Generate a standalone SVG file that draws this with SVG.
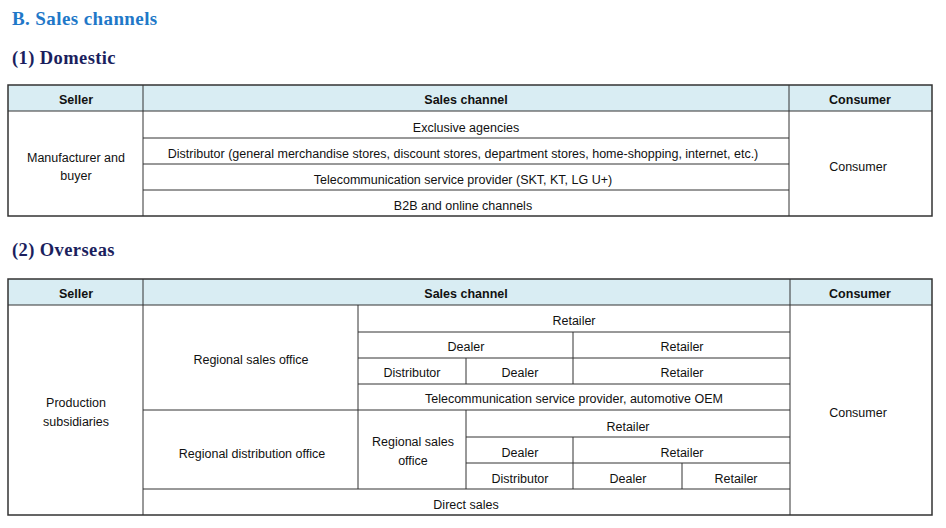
<svg xmlns="http://www.w3.org/2000/svg" width="946" height="528" viewBox="0 0 946 528">
<style>
.h1{font-family:"Liberation Serif",serif;font-weight:bold;font-size:19px;letter-spacing:0.4px;fill:#1f78c8}
.h2{font-family:"Liberation Serif",serif;font-weight:bold;font-size:18.5px;letter-spacing:0.4px;fill:#1b1f5e}
.th{font-family:"Liberation Sans",Arial,sans-serif;font-weight:bold;font-size:12.5px;fill:#111;text-anchor:middle}
.t{font-family:"Liberation Sans",Arial,sans-serif;font-size:12.5px;fill:#111;text-anchor:middle}
.hd{fill:#d9edf3}
.ln{stroke:#333;stroke-width:1;fill:none}
.ob{stroke:#333;stroke-width:1.5;fill:none}
</style>
<rect width="946" height="528" fill="#fff"/>
<text class="h1" x="12" y="25">B. Sales channels</text>
<text class="h2" x="12" y="64">(1) Domestic</text>
<text class="h2" x="12" y="256">(2) Overseas</text>

<g id="table-domestic">
<rect class="hd" x="8" y="85" width="924" height="26"/>
<g class="ln">
<line x1="8" y1="111" x2="932" y2="111"/>
<line x1="143" y1="85" x2="143" y2="216"/>
<line x1="789" y1="85" x2="789" y2="216"/>
<line x1="143" y1="138" x2="789" y2="138"/>
<line x1="143" y1="164" x2="789" y2="164"/>
<line x1="143" y1="190" x2="789" y2="190"/>
</g>
<rect class="ob" x="8" y="85" width="924" height="131"/>
<text class="th" x="76" y="104">Seller</text>
<text class="th" x="466" y="104">Sales channel</text>
<text class="th" x="860" y="104">Consumer</text>
<text class="t" x="76" y="162">Manufacturer  and</text>
<text class="t" x="76" y="180">buyer</text>
<text class="t" x="466" y="132">Exclusive agencies</text>
<text class="t" x="463" y="158">Distributor  (general merchandise  stores, discount stores,  department  stores, home-shopping,   internet,  etc.)</text>
<text class="t" x="463" y="184">Telecommunication  service provider (SKT, KT, LG U+)</text>
<text class="t" x="463" y="210">B2B and  online  channels</text>
<text class="t" x="858" y="171">Consumer</text>
</g>

<g id="table-overseas">
<rect class="hd" x="8" y="279" width="924" height="26"/>
<g class="ln">
<line x1="8" y1="305" x2="932" y2="305"/>
<line x1="143" y1="279" x2="143" y2="515"/>
<line x1="790" y1="279" x2="790" y2="515"/>
<line x1="358" y1="305" x2="358" y2="489"/>
<line x1="358" y1="332" x2="790" y2="332"/>
<line x1="358" y1="358" x2="790" y2="358"/>
<line x1="358" y1="384" x2="790" y2="384"/>
<line x1="143" y1="410" x2="790" y2="410"/>
<line x1="466" y1="437" x2="790" y2="437"/>
<line x1="466" y1="463" x2="790" y2="463"/>
<line x1="143" y1="489" x2="790" y2="489"/>
<line x1="573" y1="332" x2="573" y2="384"/>
<line x1="466" y1="358" x2="466" y2="384"/>
<line x1="466" y1="410" x2="466" y2="489"/>
<line x1="573" y1="437" x2="573" y2="489"/>
<line x1="682" y1="463" x2="682" y2="489"/>
</g>
<rect class="ob" x="8" y="279" width="924" height="236"/>
<text class="th" x="76" y="298">Seller</text>
<text class="th" x="466" y="298">Sales channel</text>
<text class="th" x="860" y="298">Consumer</text>
<text class="t" x="76" y="407">Production</text>
<text class="t" x="76" y="426">subsidiaries</text>
<text class="t" x="251" y="364">Regional  sales office</text>
<text class="t" x="252" y="458">Regional  distribution  office</text>
<text class="t" x="574" y="325">Retailer</text>
<text class="t" x="466" y="351">Dealer</text>
<text class="t" x="682" y="351">Retailer</text>
<text class="t" x="412" y="377">Distributor</text>
<text class="t" x="520" y="377">Dealer</text>
<text class="t" x="682" y="377">Retailer</text>
<text class="t" x="574" y="403">Telecommunication   service provider, automotive  OEM</text>
<text class="t" x="413" y="446">Regional  sales</text>
<text class="t" x="413" y="465">office</text>
<text class="t" x="628" y="431">Retailer</text>
<text class="t" x="520" y="457">Dealer</text>
<text class="t" x="682" y="457">Retailer</text>
<text class="t" x="520" y="483">Distributor</text>
<text class="t" x="628" y="483">Dealer</text>
<text class="t" x="736" y="483">Retailer</text>
<text class="t" x="466" y="509">Direct sales</text>
<text class="t" x="858" y="417">Consumer</text>
</g>
</svg>
